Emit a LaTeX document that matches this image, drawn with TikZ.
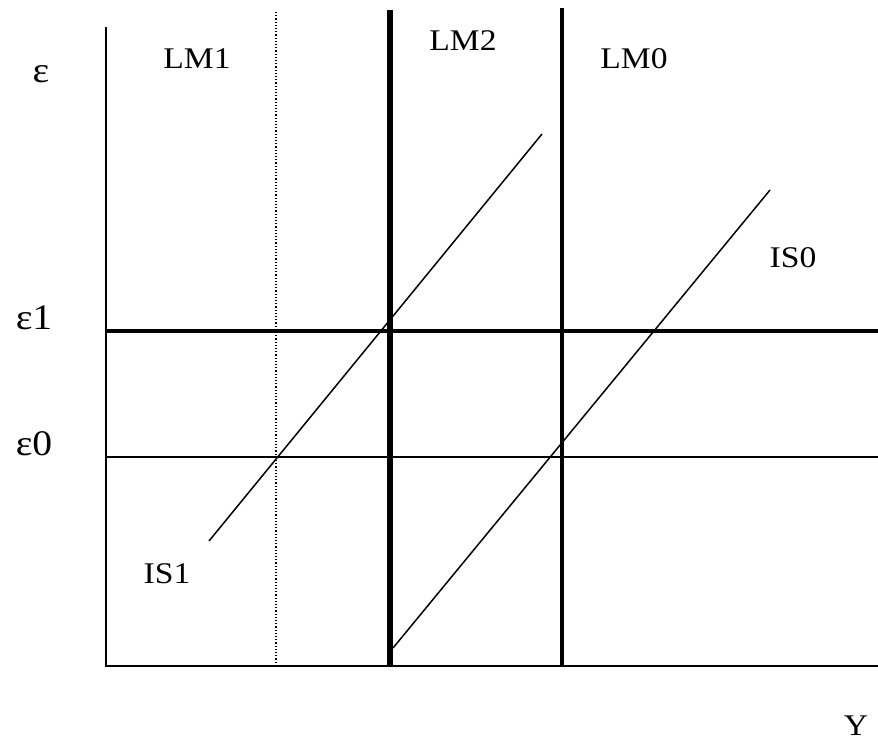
\documentclass[tikz,border=0pt]{standalone}
\usepackage{fontspec}
\setmainfont{Liberation Serif}
\begin{document}
\begin{tikzpicture}[x=1pt,y=-1pt,
  lbl/.style={inner sep=0pt, anchor=base, font=\fontsize{30}{30}\selectfont, xscale=1.12},
  elbl/.style={inner sep=0pt, anchor=base, font=\fontsize{36}{36}\selectfont, xscale=1.1},
  axisline/.style={line width=2pt},
  isline/.style={line width=1.5pt}]
\useasboundingbox (0,0) rectangle (878,744);
% coordinates
\coordinate (ytop) at (106,27);
\coordinate (orig) at (106,666);
\coordinate (xend) at (878,666);
\coordinate (lm1t) at (276,12);
\coordinate (lm1b) at (276,666);
\coordinate (lm2t) at (390,10);
\coordinate (lm2b) at (390,666);
\coordinate (lm0t) at (562,8);
\coordinate (lm0b) at (562,666);
\coordinate (e1l) at (106,331);
\coordinate (e1r) at (878,331);
\coordinate (e0l) at (106,457);
\coordinate (e0r) at (878,457);
\coordinate (is1a) at (209,541);
\coordinate (is1b) at (542,134);
\coordinate (is0a) at (393,648);
\coordinate (is0b) at (770,190);
% axes
\draw[axisline] (ytop) -- (orig) -- (xend);
% LM curves
\draw[line width=1.2pt, dotted] (lm1t) -- (lm1b);
\draw[line width=6pt] (lm2t) -- (lm2b);
\draw[line width=3.2pt] (lm0t) -- (lm0b);
% epsilon lines
\draw[line width=3.4pt] (e1l) -- (e1r);
\draw[line width=1.8pt] (e0l) -- (e0r);
% IS curves
\draw[isline] (is1a) -- (is1b);
\draw[isline] (is0a) -- (is0b);
% labels
\node[elbl] (eps) at (41,82) {ε};
\node[elbl] (eps1) at (34,329) {ε1};
\node[elbl] (eps0) at (34,455) {ε0};
\node[lbl] (lm1) at (197,68) {LM1};
\node[lbl] (lm2) at (463,50) {LM2};
\node[lbl] (lm0) at (634,68) {LM0};
\node[lbl] (is0) at (793,267) {IS0};
\node[lbl] (is1) at (167,583) {IS1};
\node[lbl] (ylab) at (856,735) {Y};
\end{tikzpicture}
\end{document}
